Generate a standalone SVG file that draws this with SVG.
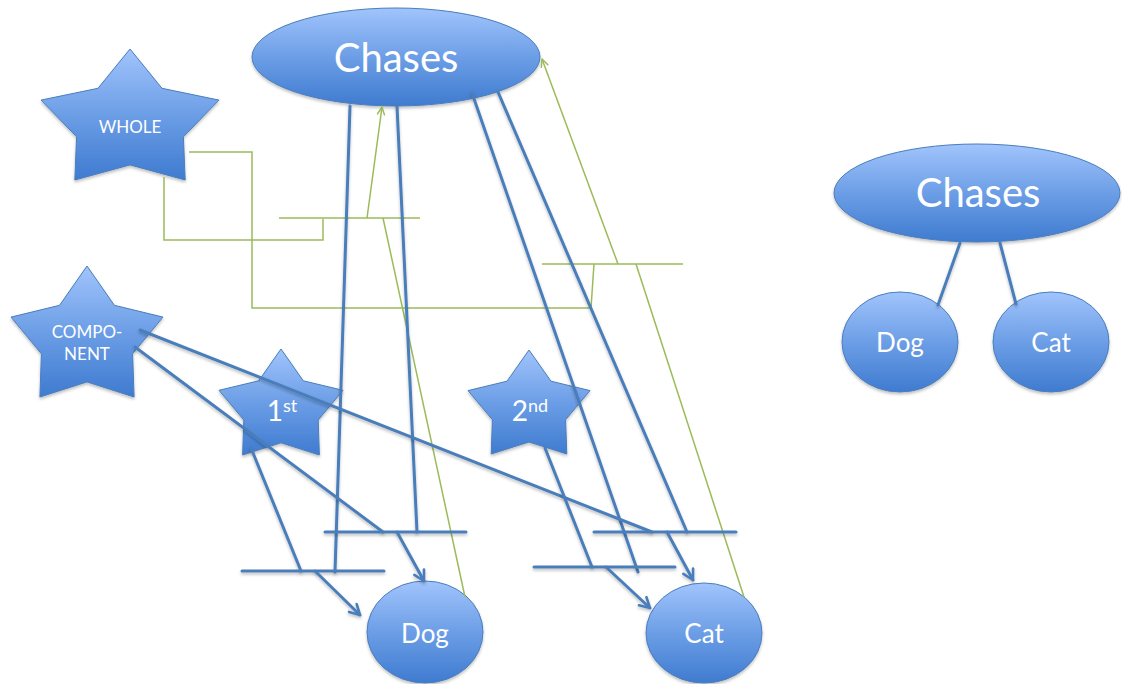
<svg xmlns="http://www.w3.org/2000/svg" width="1122" height="684" viewBox="0 0 1122 684">
  <style>
    .node { stroke: #4a7ebb; stroke-width: 1; fill: url(#nodeFill); filter: url(#soft); }
    .lbl { fill: #ffffff; font-family: Lato, "Open Sans", "Noto Sans", sans-serif; text-anchor: middle; }
    .big { font-size: 40px; }
    .mid { font-size: 26px; }
    .small { font-size: 17px; }
    .blue { stroke: #4a7ebb; stroke-width: 3; fill: none; stroke-linecap: round; filter: url(#soft); }
    .green { stroke: #9bbb59; stroke-width: 1.5; fill: none; }
  </style>
  <defs>
    <linearGradient id="nodeFill" x1="0" y1="0" x2="0" y2="1">
      <stop offset="0" stop-color="#a1c4fc"/>
      <stop offset="0.5" stop-color="#6c9ee6"/>
      <stop offset="1" stop-color="#3f7bd0"/>
    </linearGradient>
    <!-- region in user space so zero-height bars keep their shadow -->
    <filter id="soft" filterUnits="userSpaceOnUse" x="0" y="0" width="1122" height="684">
      <feDropShadow dx="0" dy="2" stdDeviation="1.5" flood-color="#000000" flood-opacity="0.25"/>
    </filter>
    <marker id="blueHead" viewBox="0 0 14 14" refX="12" refY="7" markerWidth="14" markerHeight="14" markerUnits="userSpaceOnUse" orient="auto">
      <path d="M2,1.5 L12,7 L2,12.5" fill="none" stroke="#4a7ebb" stroke-width="2.6" stroke-linecap="round" stroke-linejoin="round"/>
    </marker>
    <marker id="greenHead" viewBox="0 0 10 10" refX="9" refY="5" markerWidth="10" markerHeight="10" markerUnits="userSpaceOnUse" orient="auto">
      <path d="M1.5,1.5 L9,5 L1.5,8.5" fill="none" stroke="#9bbb59" stroke-width="1.5" stroke-linecap="round" stroke-linejoin="round"/>
    </marker>
  </defs>

  <rect width="1122" height="684" fill="#ffffff"/>

  <!-- left structure: nodes -->
  <g id="chases">
    <ellipse class="node" cx="396" cy="57" rx="144" ry="49"/>
    <text class="lbl big" x="396" y="72">Chases</text>
  </g>
  <g id="whole">
    <polygon class="node" points="130,49 162,88.3 219,100.1 183.4,136.8 185.2,180 130,164.9 74.8,180 76.6,136.8 41,100.1 98,88.3"/>
    <text class="lbl small" x="130" y="133">WHOLE</text>
  </g>
  <g id="component">
    <polygon class="node" points="87,266 114.4,305.3 163,317.1 132.6,353.8 134.1,397 87,381.9 39.9,397 41.4,353.8 11,317.1 59.6,305.3"/>
    <text class="lbl small" x="87" y="338">COMPO-</text>
    <text class="lbl small" x="87" y="360">NENT</text>
  </g>
  <g id="first">
    <polygon class="node" points="281,349 303.3,380.8 343,390.3 318.2,420 319.4,455 281,442.8 242.6,455 243.8,420 219,390.3 258.7,380.8"/>
    <text class="lbl" x="282" y="421" font-size="28"><tspan>1</tspan><tspan font-size="18" dy="-9">st</tspan></text>
  </g>
  <g id="second">
    <polygon class="node" points="529,350 551,381.2 590,390.6 565.6,419.7 566.8,454 529,442 491.2,454 492.4,419.7 468,390.6 507,381.2"/>
    <text class="lbl" x="530" y="421" font-size="28"><tspan>2</tspan><tspan font-size="18" dy="-9">nd</tspan></text>
  </g>
  <g id="dog">
    <ellipse class="node" cx="425" cy="632" rx="58" ry="51"/>
    <text class="lbl mid" x="425" y="643">Dog</text>
  </g>
  <g id="cat">
    <ellipse class="node" cx="704" cy="633" rx="58" ry="50"/>
    <text class="lbl mid" x="704" y="643">Cat</text>
  </g>

  <!-- right structure: nodes -->
  <g id="chases-tree">
    <ellipse class="node" cx="977" cy="193" rx="143" ry="49"/>
    <text class="lbl big" x="978" y="207">Chases</text>
  </g>
  <g id="dog-tree">
    <ellipse class="node" cx="900" cy="342" rx="58" ry="50"/>
    <text class="lbl mid" x="900" y="352">Dog</text>
  </g>
  <g id="cat-tree">
    <ellipse class="node" cx="1051" cy="342" rx="58" ry="50"/>
    <text class="lbl mid" x="1051" y="352">Cat</text>
  </g>

  <g id="connectors">
    <!-- green: WHOLE groupings feeding back to Chases -->
    <polyline class="green" points="189,152 252,152 252,308 591,308 594,264"/>
    <polyline class="green" points="164,177 164,240 323,240 323,219"/>
    <line class="green" x1="279" y1="218" x2="420" y2="218"/>
    <line class="green" x1="542" y1="264" x2="683" y2="264"/>
    <line class="green" x1="367" y1="218" x2="382" y2="107" marker-end="url(#greenHead)"/>
    <line class="green" x1="618" y1="264" x2="542" y2="59" marker-end="url(#greenHead)"/>
    <line class="green" x1="465" y1="597" x2="383" y2="218"/>
    <line class="green" x1="744" y1="597" x2="636" y2="264"/>

    <!-- blue: predicate and argument lines meeting at bars -->
    <line class="blue" x1="350" y1="106" x2="335" y2="572"/>
    <line class="blue" x1="397" y1="106" x2="417" y2="532"/>
    <line class="blue" x1="472" y1="93" x2="638" y2="572"/>
    <line class="blue" x1="498" y1="92" x2="687" y2="532"/>
    <line class="blue" x1="251" y1="448" x2="301" y2="571"/>
    <line class="blue" x1="135" y1="347" x2="383" y2="532"/>
    <line class="blue" x1="140" y1="330" x2="652" y2="532"/>
    <line class="blue" x1="545" y1="448" x2="592" y2="567"/>

    <line class="blue" x1="242" y1="571" x2="384" y2="571"/>
    <line class="blue" x1="325" y1="532" x2="466" y2="532"/>
    <line class="blue" x1="534" y1="567" x2="675" y2="567"/>
    <line class="blue" x1="594" y1="532" x2="736" y2="532"/>

    <line class="blue" x1="315" y1="571" x2="360" y2="615" marker-end="url(#blueHead)"/>
    <line class="blue" x1="397" y1="532" x2="424" y2="581" marker-end="url(#blueHead)"/>
    <line class="blue" x1="606" y1="567" x2="650" y2="608" marker-end="url(#blueHead)"/>
    <line class="blue" x1="667" y1="532" x2="693" y2="580" marker-end="url(#blueHead)"/>

    <!-- right tree -->
    <line class="blue" x1="960" y1="243" x2="938" y2="305"/>
    <line class="blue" x1="1000" y1="243" x2="1016" y2="304"/>
  </g>
</svg>
